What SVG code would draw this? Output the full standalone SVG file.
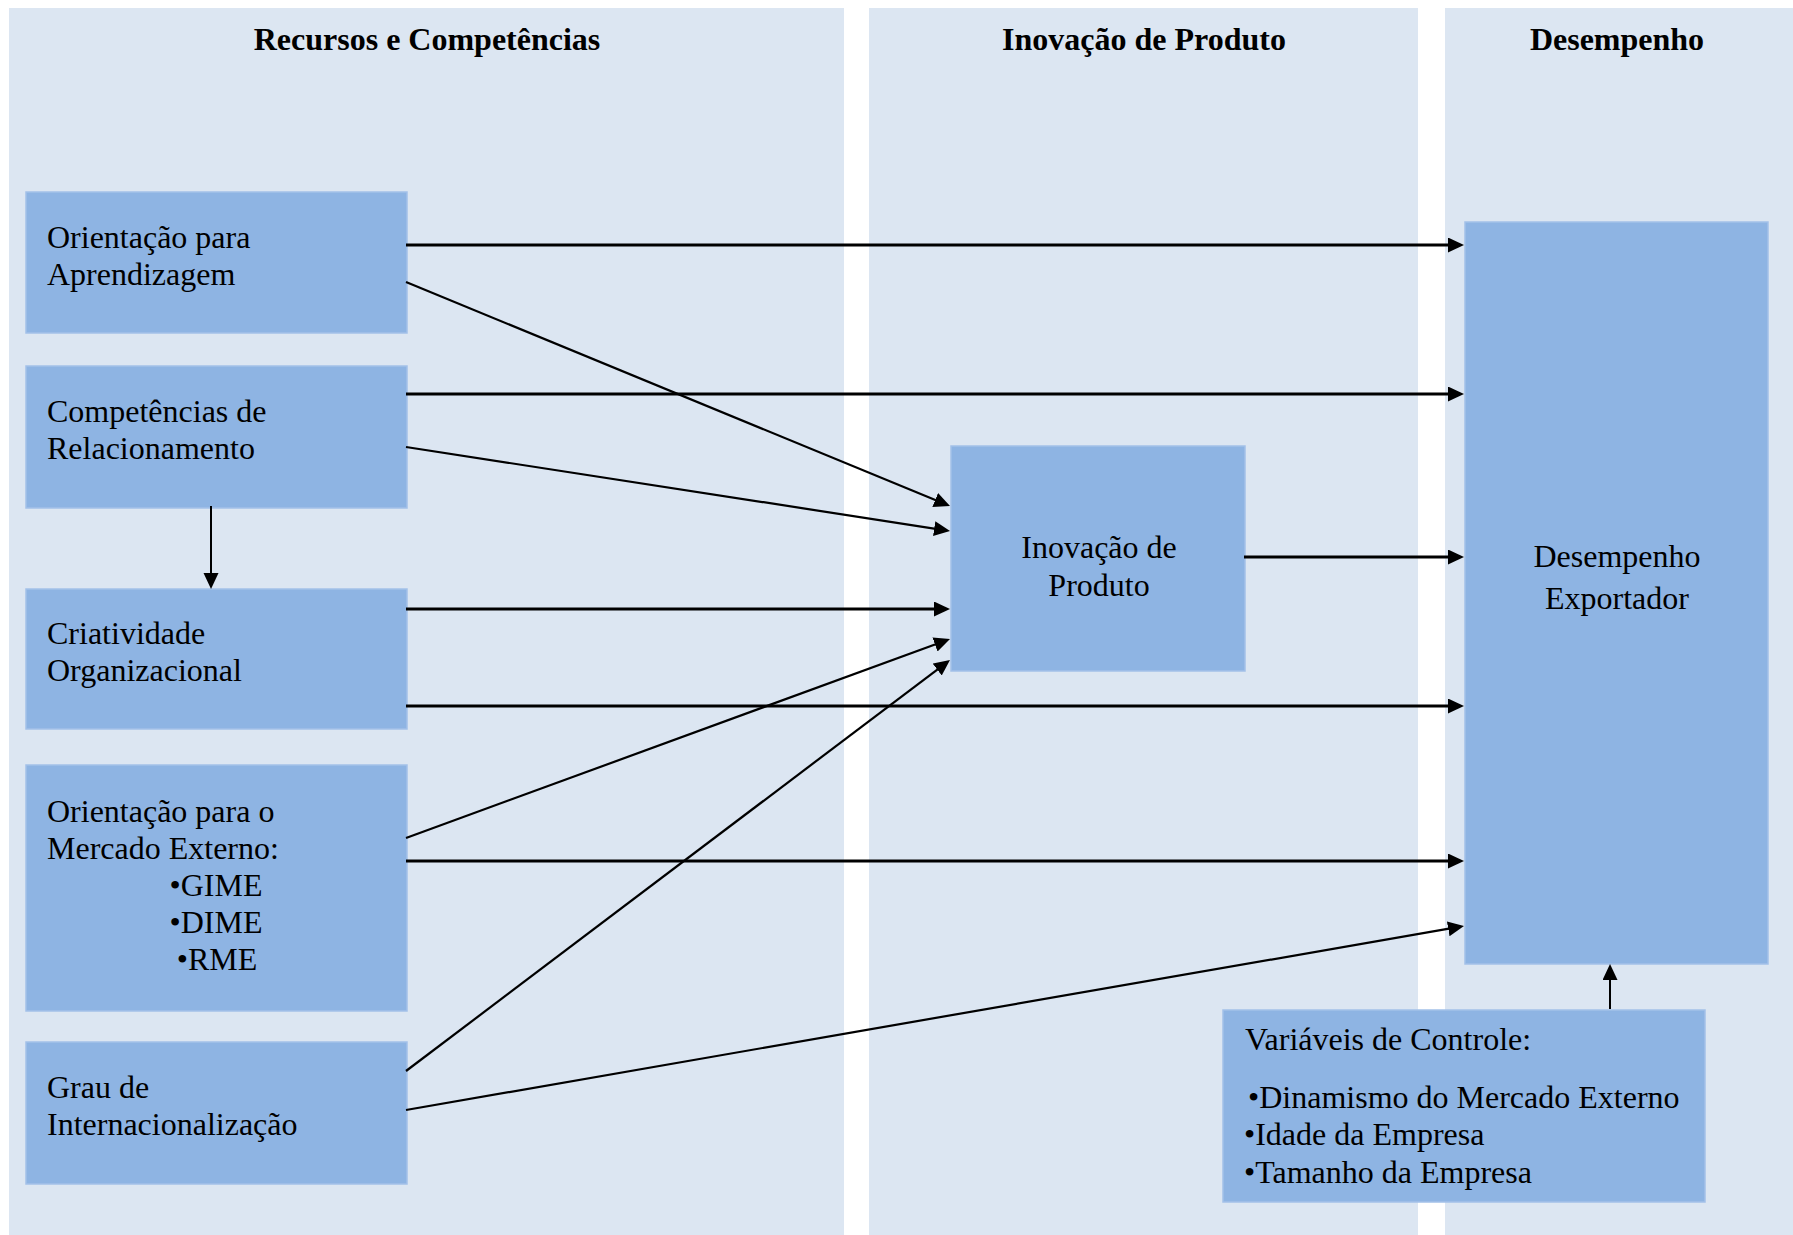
<svg xmlns="http://www.w3.org/2000/svg" width="1793" height="1235" viewBox="0 0 1793 1235">
  <style>
    .panel { fill: #DCE6F2; }
    .box { fill: #8EB4E3; stroke: #A3C1E9; stroke-width: 1.5; }
    .hd { font-family: "Liberation Serif", "Times New Roman", serif; font-size: 32px; font-weight: bold; fill: #000; text-anchor: middle; }
    .tx { font-family: "Liberation Serif", "Times New Roman", serif; font-size: 32px; fill: #000; }
    .mid { text-anchor: middle; }
    .ln { stroke: #000; stroke-width: 3; fill: none; }
    .dg { stroke: #000; stroke-width: 2.2; fill: none; }
    .vt { stroke: #000; stroke-width: 2; fill: none; }
  </style>
  <defs>
    <marker id="ah" markerUnits="userSpaceOnUse" markerWidth="17" markerHeight="16" refX="8" refY="7.5" orient="auto">
      <path d="M0,0 L16,7.5 L0,15 z" fill="#000"/>
    </marker>
  </defs>
  <rect width="1793" height="1235" fill="#FFFFFF"/>
  <g id="panels">
    <rect class="panel" x="9" y="8" width="835" height="1227"/>
    <rect class="panel" x="869" y="8" width="549" height="1227"/>
    <rect class="panel" x="1445" y="8" width="348" height="1227"/>
    <text class="hd" x="427" y="50">Recursos e Competências</text>
    <text class="hd" x="1144" y="50">Inovação de Produto</text>
    <text class="hd" x="1617" y="50">Desempenho</text>
  </g>
  <g id="node-orientacao-aprendizagem">
    <rect class="box" x="26" y="192" width="381" height="141"/>
    <text class="tx" x="47" y="248">Orientação para</text>
    <text class="tx" x="47" y="285">Aprendizagem</text>
  </g>
  <g id="node-competencias-relacionamento">
    <rect class="box" x="26" y="366" width="381" height="142"/>
    <text class="tx" x="47" y="422">Competências de</text>
    <text class="tx" x="47" y="459">Relacionamento</text>
  </g>
  <g id="node-criatividade">
    <rect class="box" x="26" y="589" width="381" height="140"/>
    <text class="tx" x="47" y="644">Criatividade</text>
    <text class="tx" x="47" y="681">Organizacional</text>
  </g>
  <g id="node-orientacao-mercado">
    <rect class="box" x="26" y="765" width="381" height="246"/>
    <text class="tx" x="47" y="822">Orientação para o</text>
    <text class="tx" x="47" y="859">Mercado Externo:</text>
    <text class="tx mid" x="216" y="896">•GIME</text>
    <text class="tx mid" x="216" y="933">•DIME</text>
    <text class="tx mid" x="217" y="970">•RME</text>
  </g>
  <g id="node-grau-internacionalizacao">
    <rect class="box" x="26" y="1042" width="381" height="142"/>
    <text class="tx" x="47" y="1098">Grau de</text>
    <text class="tx" x="47" y="1135">Internacionalização</text>
  </g>
  <g id="node-inovacao-produto">
    <rect class="box" x="951" y="446" width="294" height="225"/>
    <text class="tx mid" x="1099" y="558">Inovação de</text>
    <text class="tx mid" x="1099" y="596">Produto</text>
  </g>
  <g id="node-desempenho-exportador">
    <rect class="box" x="1465" y="222" width="303" height="742"/>
    <text class="tx mid" x="1617" y="567">Desempenho</text>
    <text class="tx mid" x="1617" y="609">Exportador</text>
  </g>
  <g id="node-variaveis-controle">
    <rect class="box" x="1223" y="1010" width="482" height="192"/>
    <text class="tx" x="1245" y="1050">Variáveis de Controle:</text>
    <text class="tx" x="1248" y="1108">•Dinamismo do Mercado Externo</text>
    <text class="tx" x="1244" y="1145">•Idade da Empresa</text>
    <text class="tx" x="1244" y="1183">•Tamanho da Empresa</text>
  </g>
  <g id="connectors">
    <line class="ln" x1="406" y1="245" x2="1456" y2="245" marker-end="url(#ah)"/>
    <line class="dg" x1="406" y1="282" x2="942.6" y2="503" marker-end="url(#ah)"/>
    <line class="ln" x1="406" y1="394" x2="1456" y2="394" marker-end="url(#ah)"/>
    <line class="dg" x1="406" y1="447" x2="942.1" y2="529.8" marker-end="url(#ah)"/>
    <line class="vt" x1="211" y1="506" x2="211" y2="581" marker-end="url(#ah)"/>
    <line class="ln" x1="406" y1="609" x2="942" y2="609" marker-end="url(#ah)"/>
    <line class="ln" x1="406" y1="706" x2="1456" y2="706" marker-end="url(#ah)"/>
    <line class="dg" x1="406" y1="838" x2="942.5" y2="641.7" marker-end="url(#ah)"/>
    <line class="ln" x1="406" y1="861" x2="1456" y2="861" marker-end="url(#ah)"/>
    <line class="dg" x1="406" y1="1071" x2="943.6" y2="664.8" marker-end="url(#ah)"/>
    <line class="dg" x1="406" y1="1110" x2="1456.1" y2="927.4" marker-end="url(#ah)"/>
    <line class="ln" x1="1244" y1="557" x2="1456" y2="557" marker-end="url(#ah)"/>
    <line class="vt" x1="1610" y1="1009" x2="1610" y2="972" marker-end="url(#ah)"/>
  </g>
</svg>
